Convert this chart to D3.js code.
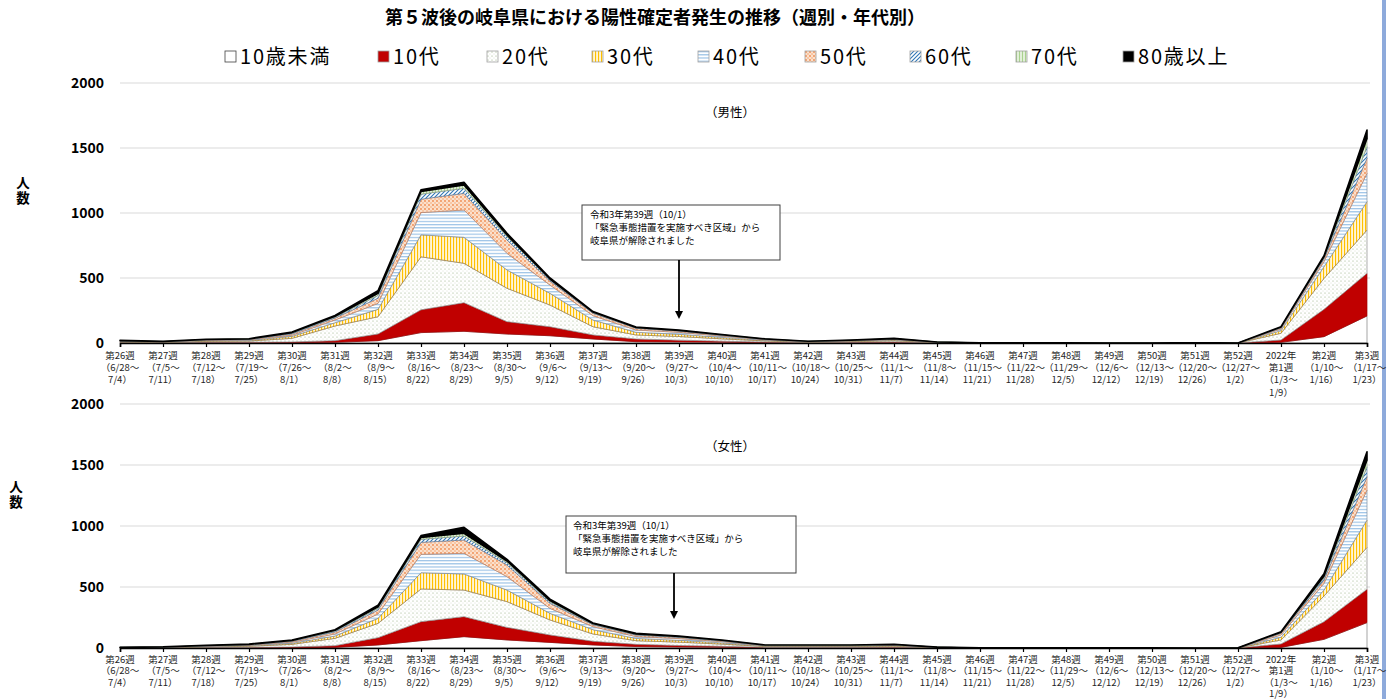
<!DOCTYPE html>
<html>
<head>
<meta charset="utf-8">
<title>第５波後の岐阜県における陽性確定者発生の推移</title>
<script src="https://cdnjs.cloudflare.com/ajax/libs/d3/7.8.5/d3.min.js"></script>
<style>
    body { margin: 0; background: #fff; }
    text { font-family: "Noto Sans CJK JP", "Noto Sans", sans-serif; }
</style>
</head>
<body>
<div id="chart"></div>
<script>
// week labels (first line) and date ranges
const weekNames = ['第26週','第27週','第28週','第29週','第30週','第31週','第32週','第33週','第34週','第35週',
    '第36週','第37週','第38週','第39週','第40週','第41週','第42週','第43週','第44週','第45週',
    '第46週','第47週','第48週','第49週','第50週','第51週','第52週','2022年|第1週','第2週','第3週'];
const weekRanges = ['6/28～|7/4','7/5～|7/11','7/12～|7/18','7/19～|7/25','7/26～|8/1','8/2～|8/8','8/9～|8/15',
    '8/16～|8/22','8/23～|8/29','8/30～|9/5','9/6～|9/12','9/13～|9/19','9/20～|9/26','9/27～|10/3',
    '10/4～|10/10','10/11～|10/17','10/18～|10/24','10/25～|10/31','11/1～|11/7','11/8～|11/14',
    '11/15～|11/21','11/22～|11/28','11/29～|12/5','12/6～|12/12','12/13～|12/19','12/20～|12/26',
    '12/27～|1/2','1/3～|1/9','1/10～|1/16','1/17～|1/23'];

const ageGroups = ['10歳未満','10代','20代','30代','40代','50代','60代','70代','80歳以上'];
const yTicks = [0, 500, 1000, 1500, 2000];

// 男性
const maleU10 = [1,1,2,2,3,5,18,80,90,69,56,31,10,8,6,3,1,2,3,1,0,0,0,0,0,0,0,5,49,208];
const male10 = [2,1,3,4,5,13,51,175,220,95,69,31,21,14,8,4,2,3,4,1,0,0,0,0,0,0,0,18,210,328];
const male20 = [5,3,8,9,28,113,133,408,303,257,167,63,31,28,18,9,4,6,10,2,1,1,1,0,0,1,0,52,238,333];
const male30 = [3,2,5,5,15,25,57,169,200,141,90,52,20,17,11,5,2,4,6,1,1,0,0,0,0,0,0,20,90,218];
const male40 = [3,2,4,5,9,21,46,171,210,128,64,33,18,15,10,5,2,3,5,1,0,0,0,0,0,0,0,13,39,218];
const male50 = [2,1,3,3,10,15,39,103,128,102,30,18,13,10,6,3,1,2,3,1,0,0,0,0,0,0,0,8,20,116];
const male60 = [1,1,1,2,6,8,22,39,39,26,10,6,4,3,3,1,1,1,2,1,0,0,0,0,0,0,0,4,10,89];
const male70 = [1,1,1,2,4,6,16,20,25,13,6,4,3,2,1,1,0,0,1,0,0,0,0,0,0,0,0,3,8,64];
const male80 = [2,1,1,1,5,6,20,13,21,13,8,4,3,3,2,1,1,1,2,0,0,0,0,0,0,0,0,2,8,64];

// 女性
const femaleU10 = [0,1,2,2,3,5,25,60,93,66,46,25,12,8,6,2,2,2,3,1,0,0,0,0,0,0,0,5,71,208];
const female10 = [1,1,2,3,5,14,60,156,164,103,61,30,18,12,8,3,3,3,4,1,0,0,0,0,0,0,0,28,145,273];
const female20 = [1,2,6,9,22,60,117,268,218,211,123,60,30,28,18,7,7,7,8,2,1,1,1,1,1,0,1,33,210,344];
const female30 = [1,1,3,5,9,19,41,133,132,95,54,35,18,15,10,4,4,4,5,1,0,0,1,0,0,0,0,22,49,224];
const female40 = [1,1,3,4,9,17,36,151,169,110,41,25,16,14,10,3,3,3,4,1,0,0,0,0,0,0,0,19,55,246];
const female50 = [1,1,2,3,7,16,32,98,109,95,41,15,12,10,6,2,2,2,2,1,0,0,0,0,0,0,0,13,27,109];
const female60 = [0,1,1,2,4,8,14,25,33,19,12,6,5,4,3,1,1,1,1,0,0,0,0,0,0,0,0,5,18,82];
const female70 = [0,0,1,2,3,6,12,16,22,14,10,5,5,4,3,2,2,2,2,0,0,0,0,0,0,0,0,5,16,55];
const female80 = [1,1,2,2,4,5,13,14,49,14,12,4,4,3,2,1,1,1,1,0,0,0,0,0,0,0,1,4,17,68];

const noteLines = ['令和3年第39週（10/1）', '「緊急事態措置を実施すべき区域」から', '岐阜県が解除されました'];

const W = 1393, H = 699;
const svg = d3.select('#chart').append('svg')
    .attr('width', W).attr('height', H);

// patterns
const defs = svg.append('defs');
function pattern(id, w, h, bg, draw) {
    const p = defs.append('pattern').attr('id', id)
        .attr('patternUnits', 'userSpaceOnUse').attr('width', w).attr('height', h);
    p.append('rect').attr('width', w).attr('height', h).attr('fill', bg);
    draw(p);
}
pattern('p20', 4, 4, '#ffffff', p => {
    p.append('circle').attr('cx', 1).attr('cy', 1).attr('r', 0.55).attr('fill', '#8faa7a');
    p.append('circle').attr('cx', 3).attr('cy', 3).attr('r', 0.45).attr('fill', '#b6c6a6');
});
pattern('p30', 3, 3, '#fff5d6', p => {
    p.append('rect').attr('x', 0).attr('width', 1.1).attr('height', 3).attr('fill', '#ffc000');
});
pattern('p40', 3, 3.2, '#ffffff', p => {
    p.append('rect').attr('y', 0).attr('width', 3).attr('height', 1.2).attr('fill', '#9dc3e6');
});
pattern('p50', 4, 4, '#fbe0cc', p => {
    p.append('circle').attr('cx', 1).attr('cy', 1).attr('r', 0.9).attr('fill', '#f08a4b');
    p.append('circle').attr('cx', 3).attr('cy', 3).attr('r', 0.8).attr('fill', '#f4a671');
});
pattern('p60', 4, 4, '#ffffff', p => {
    p.append('path').attr('d', 'M-1,1 L1,-1 M0,4 L4,0 M3,5 L5,3')
        .attr('stroke', '#2e75b6').attr('stroke-width', 1.1);
});
pattern('p70', 3, 3, '#e2efd9', p => {
    p.append('rect').attr('width', 1).attr('height', 3).attr('fill', '#a9d18e');
});

const fills = ['#ffffff', '#c00000', 'url(#p20)', 'url(#p30)', 'url(#p40)', 'url(#p50)', 'url(#p60)', 'url(#p70)', '#000000'];
const strokes = ['#808080', '#a00000', '#8c8c8c', '#a08040', '#7f8fa0', '#c08060', '#5b7fa5', '#90a080', '#000000'];

// Title
svg.append('text')
    .attr('x', 655).attr('y', 24)
    .attr('text-anchor', 'middle')
    .style('font-size', '18px').style('font-weight', 'bold')
    .text('第５波後の岐阜県における陽性確定者発生の推移（週別・年代別）');

// Legend
const legendX = [225, 378, 487, 592, 698, 805, 910, 1016, 1123];
ageGroups.forEach((g, i) => {
    const lg = svg.append('g').attr('transform', `translate(${legendX[i]},51)`);
    lg.append('rect').attr('width', 11).attr('height', 11)
        .attr('fill', fills[i]).attr('stroke', i === 0 ? '#404040' : '#a0a0a0').attr('stroke-width', 0.8);
    lg.append('text').attr('x', 15).attr('y', 13)
        .style('font-size', '20px').style('letter-spacing', '1.8px')
        .text(g);
});

// right border
svg.append('rect').attr('x', 1382).attr('y', 0).attr('width', 4).attr('height', H).attr('fill', '#8eaadb');

const x = d3.scalePoint().domain(weekNames).range([120, 1367]);

function drawPanel(cfg) {
    const rows = weekNames.map((w, i) => {
        const r = {week: w};
        ageGroups.forEach((g, k) => { r[g] = cfg.series[k][i]; });
        return r;
    });
    const y = d3.scaleLinear().domain([0, 2000]).range([cfg.bottom, cfg.top]);
    const g = svg.append('g');

    // gridlines
    g.selectAll('.grid').data(yTicks.slice(1)).join('line')
        .attr('x1', 120).attr('x2', 1370)
        .attr('y1', d => y(d)).attr('y2', d => y(d))
        .attr('stroke', '#d9d9d9').attr('stroke-width', 1.2);

    // y axis
    const ya = g.append('g').attr('transform', 'translate(120,0)')
        .call(d3.axisLeft(y).tickValues(yTicks).tickFormat(d3.format('d')).tickSize(0).tickPadding(16));
    ya.select('.domain').remove();
    ya.selectAll('text')
        .style('font-family', '"Noto Sans CJK JP", sans-serif')
        .style('font-size', '14px').style('font-weight', 'bold').attr('fill', '#000');

    // axis title (vertical)
    g.append('text').attr('x', cfg.ylabX).attr('y', cfg.ylabY)
        .attr('text-anchor', 'middle')
        .style('font-size', '13.5px').style('font-weight', 'bold')
        .style('writing-mode', 'vertical-rl').style('letter-spacing', '1px')
        .text('人数');

    // panel caption
    g.append('text').attr('x', 730).attr('y', cfg.capY)
        .attr('text-anchor', 'middle').style('font-size', '12.5px')
        .text(cfg.caption);

    // stacked areas
    const stack = d3.stack().keys(ageGroups);
    const layers = stack(rows);
    const area = d3.area()
        .x(d => x(d.data.week))
        .y0(d => y(d[0]))
        .y1(d => y(d[1]));
    g.selectAll('.layer').data(layers).join('path')
        .attr('d', area)
        .attr('fill', (d, i) => fills[i])
        .attr('stroke', (d, i) => strokes[i])
        .attr('stroke-width', (d, i) => i === 8 ? 1.6 : 0.7)
        .attr('stroke-linejoin', 'round');

    // x axis
    const xa = g.append('g').attr('transform', `translate(0,${cfg.bottom})`)
        .call(d3.axisBottom(x).tickSize(4).tickFormat(''));
    xa.select('.domain').attr('stroke', '#000').attr('stroke-width', 1.6);
    xa.selectAll('.tick line').attr('stroke', '#000').attr('stroke-width', 1.2);

    weekNames.forEach((w, i) => {
        const lines = w.split('|').concat(weekRanges[i].split('|').map((s, j) => j === 0 ? '（' + s : s + '）'));
        const t = g.append('text')
            .attr('x', x(w)).attr('y', cfg.bottom + cfg.labY)
            .attr('text-anchor', 'middle')
            .style('font-size', '9.5px').attr('fill', '#262626');
        lines.forEach((s, j) => {
            t.append('tspan').attr('x', x(w)).attr('dy', j === 0 ? 0 : cfg.labDy).text(s);
        });
    });

    // annotation
    const n = cfg.note;
    g.append('rect').attr('x', n.x).attr('y', n.y).attr('width', n.w).attr('height', n.h)
        .attr('fill', '#fff').attr('stroke', '#404040').attr('stroke-width', 1);
    noteLines.forEach((s, i) => {
        g.append('text').attr('x', n.x + n.pad).attr('y', n.y + 13 + i * 13)
            .style('font-size', '9.5px').text(s);
    });
    g.append('line').attr('x1', n.ax).attr('x2', n.ax)
        .attr('y1', n.y + n.h).attr('y2', n.ay - 7)
        .attr('stroke', '#000').attr('stroke-width', 1.8);
    g.append('path')
        .attr('d', `M${n.ax - 4},${n.ay - 8} L${n.ax + 4},${n.ay - 8} L${n.ax},${n.ay} Z`)
        .attr('fill', '#000');
}

drawPanel({
    series: [maleU10, male10, male20, male30, male40, male50, male60, male70, male80],
    top: 83, bottom: 343, caption: '（男性）', capY: 117, ylabX: 23, ylabY: 191,
    labY: 16, labDy: 12.2,
    note: {x: 582, y: 205, w: 198, h: 55, pad: 8, ax: 679, ay: 319}
});
drawPanel({
    series: [femaleU10, female10, female20, female30, female40, female50, female60, female70, female80],
    top: 404, bottom: 648, caption: '（女性）', capY: 451, ylabX: 16, ylabY: 495,
    labY: 15, labDy: 11.4,
    note: {x: 566, y: 516, w: 230, h: 57, pad: 7, ax: 674, ay: 619}
});
</script>
</body>
</html>
